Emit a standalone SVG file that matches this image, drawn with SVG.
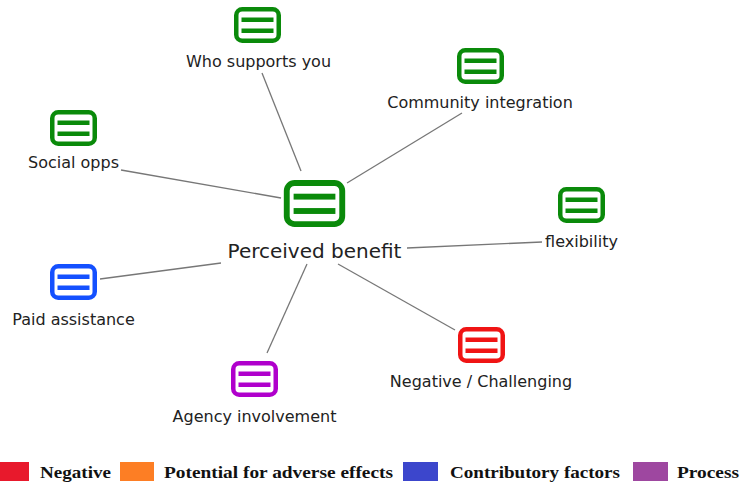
<svg xmlns="http://www.w3.org/2000/svg" xmlns:xlink="http://www.w3.org/1999/xlink" width="755" height="483" viewBox="0 0 755 483">
<style>
.lbl{font-family:"DejaVu Sans",Verdana,sans-serif;font-size:16px;fill:#222;text-anchor:middle}
.big{font-size:20px}
.conn line{stroke:#777;stroke-width:1.3}
.leg{font-family:"Liberation Serif","Times New Roman",serif;font-weight:bold;font-size:17px;fill:#111}
.g{color:#0a8a0a}.b{color:#1450ff}.p{color:#b000cc}.r{color:#f01414}
</style>
<defs>
<symbol id="ic" viewBox="0 0 47 36">
<rect x="2.25" y="2.25" width="42.5" height="31.5" rx="6" fill="#fff" stroke="currentColor" stroke-width="4.5"/>
<rect x="7.5" y="10.5" width="32" height="4.5" fill="currentColor"/>
<rect x="7.5" y="21.5" width="32" height="4.5" fill="currentColor"/>
</symbol>
</defs>
<rect width="755" height="483" fill="#fff"/>
<g id="connectors" class="conn">
<line x1="262" y1="73" x2="301" y2="171"/>
<line x1="121" y1="170" x2="281" y2="198"/>
<line x1="462" y1="113" x2="347" y2="183"/>
<line x1="407" y1="248" x2="542" y2="242"/>
<line x1="100" y1="279" x2="221" y2="263"/>
<line x1="307" y1="264" x2="267" y2="353"/>
<line x1="338" y1="264" x2="455" y2="330"/>
</g>
<g id="perceived-benefit"><use xlink:href="#ic" href="#ic" class="g" x="283" y="180" width="63" height="47" preserveAspectRatio="none"/><text class="lbl big" x="314.5" y="258">Perceived benefit</text></g>
<g id="who-supports-you"><use href="#ic" xlink:href="#ic" class="g" x="234" y="7" width="47" height="36"/><text class="lbl" x="258.5" y="67">Who supports you</text></g>
<g id="social-opps"><use href="#ic" xlink:href="#ic" class="g" x="50" y="110" width="47" height="36"/><text class="lbl" x="73.5" y="168">Social opps</text></g>
<g id="community-integration"><use href="#ic" xlink:href="#ic" class="g" x="457" y="48" width="47" height="36"/><text class="lbl" x="480" y="108">Community integration</text></g>
<g id="flexibility"><use href="#ic" xlink:href="#ic" class="g" x="558" y="187" width="47" height="36"/><text class="lbl" x="581.5" y="247">flexibility</text></g>
<g id="paid-assistance"><use href="#ic" xlink:href="#ic" class="b" x="50" y="264" width="47" height="36"/><text class="lbl" x="73.5" y="325">Paid assistance</text></g>
<g id="agency-involvement"><use href="#ic" xlink:href="#ic" class="p" x="231" y="361" width="47" height="36"/><text class="lbl" x="254.5" y="422">Agency involvement</text></g>
<g id="negative-challenging"><use href="#ic" xlink:href="#ic" class="r" x="458" y="327" width="47" height="36"/><text class="lbl" x="481" y="387">Negative / Challenging</text></g>
<g id="legend">
<rect x="0" y="462" width="29" height="19" fill="#e8192c"/>
<text class="leg" x="40" y="478" textLength="71" lengthAdjust="spacingAndGlyphs">Negative</text>
<rect x="120" y="462" width="34" height="19" fill="#fd7e24"/>
<text class="leg" x="164" y="478" textLength="229" lengthAdjust="spacingAndGlyphs">Potential for adverse effects</text>
<rect x="403" y="462" width="35" height="19" fill="#3c46cc"/>
<text class="leg" x="450" y="478" textLength="170" lengthAdjust="spacingAndGlyphs">Contributory factors</text>
<rect x="633" y="462" width="35" height="19" fill="#9e47a0"/>
<text class="leg" x="677" y="478" textLength="62" lengthAdjust="spacingAndGlyphs">Process</text>
</g>
</svg>
